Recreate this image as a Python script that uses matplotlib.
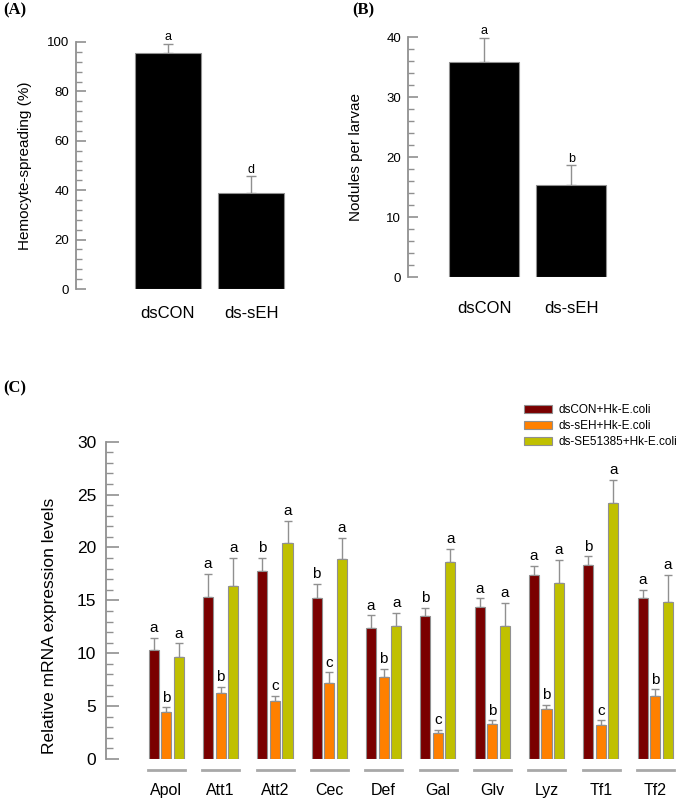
import numpy as np
import matplotlib
matplotlib.use('Agg')
import matplotlib.pyplot as plt
from matplotlib.ticker import MultipleLocator
from matplotlib.transforms import blended_transform_factory

plt.rcParams['font.family'] = ['Liberation Sans', 'DejaVu Sans']

# Panel A data
a_groups = ['dsCON', 'ds-sEH']
a_vals = [95.5, 38.9]
a_err = [3.7, 6.7]
a_letters = ['a', 'd']

# Panel B data
b_groups = ['dsCON', 'ds-sEH']
b_vals = [35.8, 15.3]
b_err = [4.1, 3.3]
b_letters = ['a', 'b']

# Panel C data
genes = ['Apol', 'Att1', 'Att2', 'Cec', 'Def', 'Gal', 'Glv', 'Lyz', 'Tf1', 'Tf2']
series = ['dsCON+Hk-E.coli', 'ds-sEH+Hk-E.coli', 'ds-SE51385+Hk-E.coli']
con_vals = [10.35, 15.35, 17.8, 15.25, 12.35, 13.5, 14.35, 17.35, 18.3, 15.25]
con_err = [1.1, 2.15, 1.25, 1.3, 1.25, 0.8, 0.85, 0.9, 0.85, 0.75]
seh_vals = [4.4, 6.2, 5.45, 7.2, 7.75, 2.5, 3.3, 4.7, 3.2, 6.0]
seh_err = [0.5, 0.6, 0.55, 1.0, 0.75, 0.25, 0.35, 0.45, 0.45, 0.6]
se5_vals = [9.6, 16.4, 20.4, 18.95, 12.55, 18.65, 12.6, 16.6, 24.25, 14.85]
se5_err = [1.35, 2.65, 2.1, 1.95, 1.25, 1.25, 2.15, 2.25, 2.15, 2.55]
con_letters = ['a', 'a', 'b', 'b', 'a', 'b', 'a', 'a', 'b', 'a']
seh_letters = ['b', 'b', 'c', 'c', 'b', 'c', 'b', 'b', 'c', 'b']
se5_letters = ['a'] * 10
colors = ['#7a0000', '#ff8000', '#c0c000']

edge = '#909090'
W, H = 685, 799
fig = plt.figure(figsize=(W / 100, H / 100), dpi=100)


def px_axes(left, right, top, bottom):
    return fig.add_axes([left / W, 1 - bottom / H, (right - left) / W, (bottom - top) / H])


def style_axis(ax, major_len, minor_len, labelsize, pad):
    for s in ['top', 'right', 'bottom']:
        ax.spines[s].set_visible(False)
    ax.spines['left'].set_color(edge)
    ax.spines['left'].set_linewidth(1.3)
    ax.tick_params(axis='y', which='major', direction='in', length=major_len,
                   width=1.2, color=edge, labelsize=labelsize, pad=pad)
    ax.tick_params(axis='y', which='minor', direction='in', length=minor_len,
                   width=1.0, color=edge)
    ax.tick_params(axis='x', length=0)


def simple_panel(ax, groups, vals, err, letters, ymax, major, minor, ylabel, xlim, xpad, letter_off):
    x = np.arange(len(groups))
    ax.bar(x, vals, width=0.8, color='black', edgecolor=edge, linewidth=0.8, zorder=2)
    ax.errorbar(x, vals, yerr=[np.zeros(len(vals)), err], fmt='none', ecolor=edge,
                elinewidth=1.0, capsize=3.5, capthick=1.0, zorder=1)
    for xi, v, e, l in zip(x, vals, err, letters):
        ax.text(xi, v + e + letter_off, l, ha='center', va='bottom', fontsize=9)
    ax.set_ylim(0, ymax)
    ax.set_xlim(*xlim)
    ax.yaxis.set_major_locator(MultipleLocator(major))
    ax.yaxis.set_minor_locator(MultipleLocator(minor))
    ax.set_xticks(x)
    ax.set_xticklabels(groups, fontsize=12)
    ax.tick_params(axis='x', pad=xpad)
    style_axis(ax, 7, 4.5, 9.5, 5)
    ax.set_ylabel(ylabel, fontsize=11)


# (A)
axA = px_axes(76, 300, 42, 289)
simple_panel(axA, a_groups, a_vals, a_err, a_letters, 100, 20, 4,
             'Hemocyte-spreading (%)', (-1.108, 1.59), 12, 0.3)
axA.yaxis.set_label_coords(-0.195, 0.5)

# (B)
axB = px_axes(408, 640, 37, 277)
simple_panel(axB, b_groups, b_vals, b_err, b_letters, 40, 10, 2,
             'Nodules per larvae', (-0.874, 1.79), 17, 0.15)
axB.yaxis.set_label_coords(-0.195, 0.5)

# (C)
axC = px_axes(106, 685, 441.7, 759)
x = np.arange(len(genes))
bw = 0.185
off = 0.232
all_vals = [con_vals, seh_vals, se5_vals]
all_err = [con_err, seh_err, se5_err]
all_letters = [con_letters, seh_letters, se5_letters]
for k in range(3):
    xs = x + (k - 1) * off
    axC.bar(xs, all_vals[k], width=bw, color=colors[k], edgecolor=edge,
            linewidth=0.8, label=series[k], zorder=2)
    axC.errorbar(xs, all_vals[k], yerr=[np.zeros(len(genes)), all_err[k]], fmt='none',
                 ecolor=edge, elinewidth=1.0, capsize=3, capthick=1.0, zorder=1)
    for xi, v, e, l in zip(xs, all_vals[k], all_err[k], all_letters[k]):
        axC.text(xi, v + e + 0.25, l, ha='center', va='bottom', fontsize=11)

axC.set_ylim(0, 30)
axC.set_xlim(-1.11, 9.55)
axC.yaxis.set_major_locator(MultipleLocator(5))
axC.yaxis.set_minor_locator(MultipleLocator(1))
axC.set_xticks(x)
axC.set_xticklabels(genes, fontsize=11.5)
axC.tick_params(axis='x', pad=17)
style_axis(axC, 9, 5, 12.5, 7)
axC.set_ylabel('Relative mRNA expression levels', fontsize=12.5)
axC.yaxis.set_label_coords(-0.085, 0.42)

# group underlines below the axis
trans = blended_transform_factory(axC.transData, axC.transAxes)
for xi in x:
    axC.plot([xi - off - bw / 2 - 0.01, xi + off + bw / 2 + 0.02], [-0.035, -0.035],
             color='#a8a8a8', linewidth=2, transform=trans, clip_on=False)

leg = axC.legend(loc='upper left', bbox_to_anchor=(524 / W, 1 - 404 / H),
                 bbox_transform=fig.transFigure, frameon=False, fontsize=8.5,
                 handlelength=2.35, handleheight=0.75, labelspacing=0.35,
                 handletextpad=0.6, borderpad=0, borderaxespad=0)

# panel labels
fig.text(3 / W, 1 - 10 / H, '(A)', fontsize=12, fontweight='bold',
         family='Liberation Serif', va='center', ha='left')
fig.text(352 / W, 1 - 10 / H, '(B)', fontsize=12, fontweight='bold',
         family='Liberation Serif', va='center', ha='left')
fig.text(3 / W, 1 - 388 / H, '(C)', fontsize=12, fontweight='bold',
         family='Liberation Serif', va='center', ha='left')

fig.savefig('out.png', dpi=100)
